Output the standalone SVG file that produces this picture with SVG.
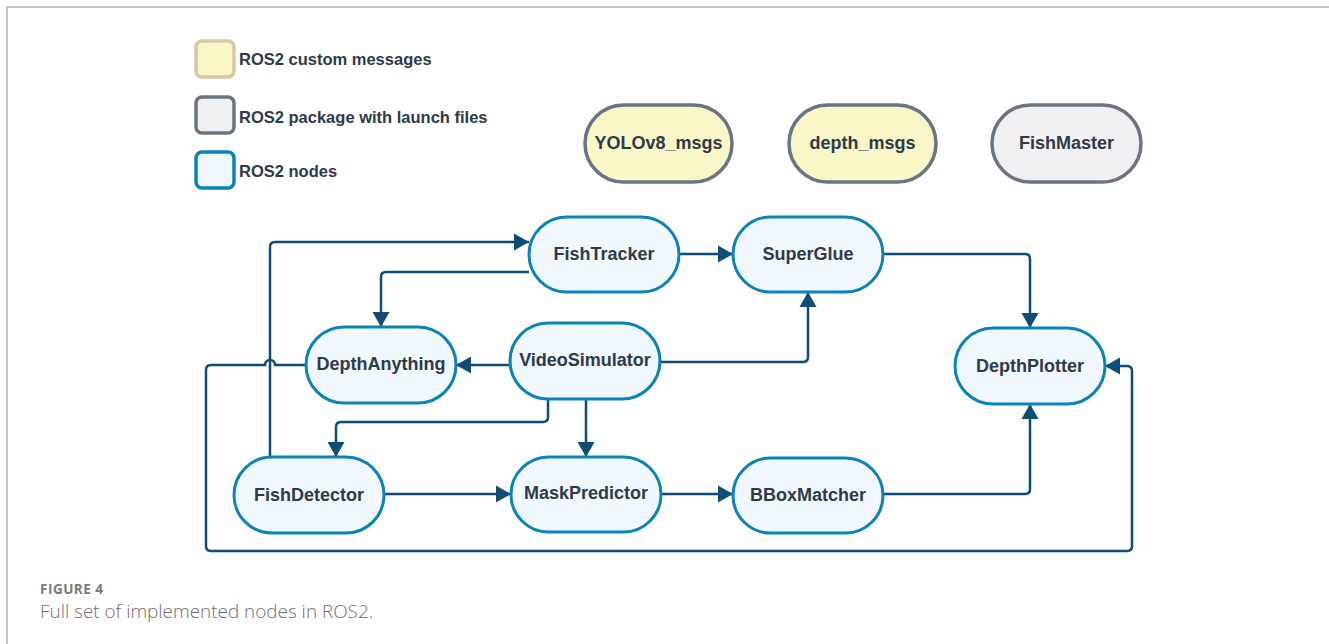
<svg xmlns="http://www.w3.org/2000/svg" width="1329" height="644" viewBox="0 0 1329 644">
<defs>
<style>
.frame{fill:none;stroke:#c4c4c4;stroke-width:2}
.node rect{fill:#f0f7fd;stroke:#0a83b6;stroke-width:3}
.msg rect{fill:#f9f7c7;stroke:#6b7580;stroke-width:3.5}
.pkg rect{fill:#f1f1f4;stroke:#6b7580;stroke-width:3.5}
.lbl{font-family:"Liberation Sans",Arial,sans-serif;font-weight:bold;font-size:18px;fill:#2f3a48;text-anchor:middle}
.leg{font-family:"Liberation Sans",Arial,sans-serif;font-weight:bold;font-size:16.5px;fill:#2f3a48}
.conn path{fill:none;stroke:#0f4d75;stroke-width:2.5}
.cap1{font-family:"Open Sans",Lato,sans-serif;font-weight:bold;font-size:13.5px;letter-spacing:0.5px;fill:#7a7a7a}
.cap2{font-family:"Open Sans",Lato,sans-serif;font-weight:300;font-size:18.9px;fill:#6e6e6e}
</style>
<marker id="arr" markerUnits="userSpaceOnUse" markerWidth="16" markerHeight="18" refX="15" refY="8.5" orient="auto" viewBox="0 0 16 17">
<path d="M0,0 L15,8.5 L0,17 z" fill="#0f4d75"/>
</marker>
</defs>
<path class="frame" d="M7,644 V7 H1329"/>

<g id="legend">
<rect x="196" y="41" width="38" height="36" rx="6" fill="#f9f7c7" stroke="#d5c8a6" stroke-width="3.5"/>
<text class="leg" x="239" y="65">ROS2 custom messages</text>
<rect x="196" y="97" width="38" height="36" rx="6" fill="#f1f1f4" stroke="#6b7580" stroke-width="3.5"/>
<text class="leg" x="239" y="123">ROS2 package with launch files</text>
<rect x="196" y="152" width="38" height="36" rx="6" fill="#f0f7fd" stroke="#0a83b6" stroke-width="3.5"/>
<text class="leg" x="239" y="177">ROS2 nodes</text>
</g>

<g id="yolov8_msgs" class="msg"><rect x="585" y="105" width="147" height="77" rx="38.5"/><text class="lbl" x="658.5" y="149">YOLOv8_msgs</text></g>
<g id="depth_msgs" class="msg"><rect x="789" y="105" width="147" height="77" rx="38.5"/><text class="lbl" x="862.5" y="149">depth_msgs</text></g>
<g id="fishmaster" class="pkg"><rect x="992" y="105" width="149" height="77" rx="38.5"/><text class="lbl" x="1066.5" y="149">FishMaster</text></g>

<g id="connectors" class="conn">
<path d="M270,457 V247 Q270,242 275,242 H529" marker-end="url(#arr)"/>
<path d="M529,272 H386 Q381,272 381,277 V327" marker-end="url(#arr)"/>
<path d="M679,254 H733" marker-end="url(#arr)"/>
<path d="M883,254 H1025 Q1030,254 1030,259 V328" marker-end="url(#arr)"/>
<path d="M660,362 H803 Q808,362 808,357 V292" marker-end="url(#arr)"/>
<path d="M510,365 H456" marker-end="url(#arr)"/>
<path d="M548,398 V417 Q548,422 543,422 H341 Q336,422 336,427 V457" marker-end="url(#arr)"/>
<path d="M586,398 V457" marker-end="url(#arr)"/>
<path d="M384,494 H511" marker-end="url(#arr)"/>
<path d="M661,494 H733" marker-end="url(#arr)"/>
<path d="M883,494 H1025 Q1030,494 1030,489 V404" marker-end="url(#arr)"/>
<path d="M306,365 H275 A5,5 0 0 0 265,365 H211 Q206,365 206,370 V546 Q206,551 211,551 H1127 Q1132,551 1132,546 V371 Q1132,366 1127,366 H1105" marker-end="url(#arr)"/>
</g>

<g id="fishtracker" class="node"><rect x="529" y="217" width="150" height="75" rx="37.5"/><text class="lbl" x="604" y="260">FishTracker</text></g>
<g id="superglue" class="node"><rect x="733" y="217" width="150" height="75" rx="37.5"/><text class="lbl" x="808" y="260">SuperGlue</text></g>
<g id="depthanything" class="node"><rect x="306" y="327" width="150" height="76" rx="38"/><text class="lbl" x="381" y="370">DepthAnything</text></g>
<g id="videosimulator" class="node"><rect x="510" y="323" width="150" height="76" rx="38"/><text class="lbl" x="585" y="366">VideoSimulator</text></g>
<g id="depthplotter" class="node"><rect x="955" y="328" width="150" height="76" rx="38"/><text class="lbl" x="1030" y="372">DepthPlotter</text></g>
<g id="fishdetector" class="node"><rect x="234" y="457" width="150" height="76" rx="38"/><text class="lbl" x="309" y="501">FishDetector</text></g>
<g id="maskpredictor" class="node"><rect x="511" y="457" width="150" height="75" rx="37.5"/><text class="lbl" x="586" y="499">MaskPredictor</text></g>
<g id="bboxmatcher" class="node"><rect x="733" y="458" width="150" height="75" rx="37.5"/><text class="lbl" x="808" y="501">BBoxMatcher</text></g>

<text class="cap1" x="40" y="594">FIGURE 4</text>
<text class="cap2" x="40" y="618">Full set of implemented nodes in ROS2.</text>
</svg>
